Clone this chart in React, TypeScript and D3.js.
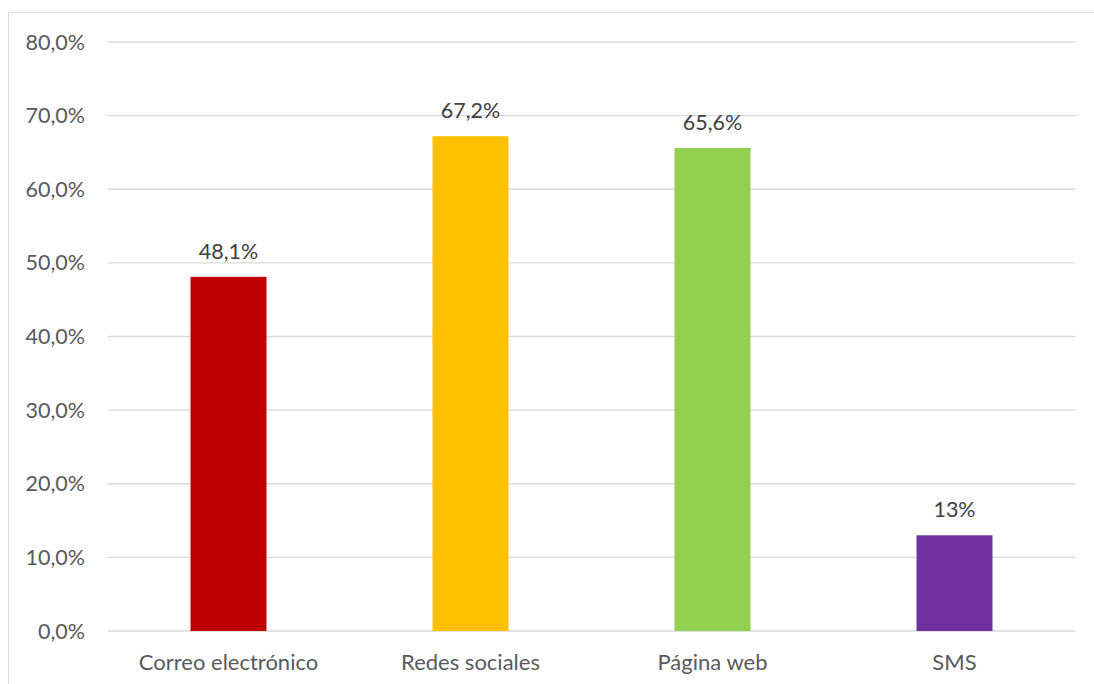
import React from "react";
import * as d3 from "d3";

const categories = ["Correo electrónico", "Redes sociales", "Página web", "SMS"];
const values = [48.1, 67.2, 65.6, 13];
const valueLabels = ["48,1%", "67,2%", "65,6%", "13%"];
const colors = ["#c00000", "#ffc000", "#92d050", "#7030a0"];
const yTicks = [0, 10, 20, 30, 40, 50, 60, 70, 80];

const W = 1094;
const H = 684;
const left = 107.5;
const right = 1075.5;
const top = 42;
const bottom = 631;
const font = "Lato, 'Open Sans', sans-serif";
const textColor = "#595959";

export default function App() {
  const x = d3
    .scaleBand<string>()
    .domain(categories)
    .range([left, right])
    .paddingInner(0.686)
    .paddingOuter(0.343);
  const y = d3.scaleLinear().domain([0, 80]).range([bottom, top]);
  const fmt = (v: number) => v.toFixed(1).replace(".", ",") + "%";

  return (
    <svg
      width={W}
      height={H}
      style={{ position: "absolute", left: 0, top: 0, background: "#fff" }}
    >
      <rect x={8.5} y={12.5} width={1100} height={700} fill="#fff" stroke="#d9d9d9" strokeWidth={1} />
      {yTicks.map((t) => (
        <g key={t}>
          <line x1={left} x2={right} y1={y(t)} y2={y(t)} stroke="#d9d9d9" strokeWidth={1.3} />
          <text
            x={85}
            y={y(t)}
            dy="0.35em"
            textAnchor="end"
            fontFamily={font}
            fontSize={21.5}
            fill={textColor}
          >
            {fmt(t)}
          </text>
        </g>
      ))}
      {categories.map((c, i) => {
        const bx = x(c)!;
        const bw = x.bandwidth();
        return (
          <g key={c}>
            <rect x={bx} y={y(values[i])} width={bw} height={y(0) - y(values[i])} fill={colors[i]} />
            <text
              x={bx + bw / 2}
              y={y(values[i]) - 18}
              textAnchor="middle"
              fontFamily={font}
              fontSize={21.5}
              fill="#404040"
            >
              {valueLabels[i]}
            </text>
            <text
              x={bx + bw / 2}
              y={670}
              textAnchor="middle"
              fontFamily={font}
              fontSize={22}
              fill={textColor}
            >
              {c}
            </text>
          </g>
        );
      })}
    </svg>
  );
}
